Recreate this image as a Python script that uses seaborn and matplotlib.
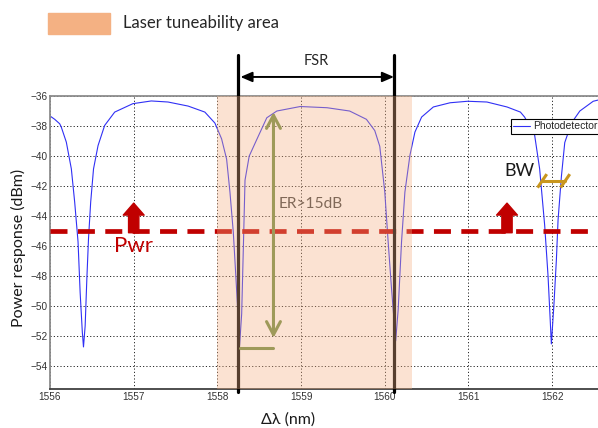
import numpy as np
import pandas as pd
import seaborn as sns
import matplotlib.pyplot as plt
from matplotlib.patches import FancyArrowPatch, Rectangle
from matplotlib.lines import Line2D
import matplotlib.transforms as mtransforms

# ---- data ----
wavelength_nm = [
    1556.00, 1556.056, 1556.116, 1556.135, 1556.195, 1556.255, 1556.295, 1556.335,
    1556.36, 1556.386, 1556.40, 1556.42, 1556.44, 1556.46, 1556.486, 1556.52,
    1556.574, 1556.653, 1556.773, 1556.99, 1557.21, 1557.41, 1557.65, 1557.85,
    1557.97, 1558.05, 1558.11, 1558.15, 1558.19, 1558.22, 1558.24, 1558.265,
    1558.29, 1558.31, 1558.33, 1558.38, 1558.47, 1558.59, 1558.71, 1558.99,
    1559.31, 1559.58, 1559.78, 1559.88, 1559.94, 1560.00, 1560.04, 1560.08,
    1560.13, 1560.16, 1560.20, 1560.24, 1560.30, 1560.36, 1560.44, 1560.58,
    1560.78, 1560.99, 1561.22, 1561.46, 1561.62, 1561.67, 1561.79, 1561.85,
    1561.91, 1561.95, 1561.97, 1561.99, 1562.02, 1562.05, 1562.07, 1562.11,
    1562.15, 1562.23, 1562.33, 1562.49, 1562.60,
]
power_dbm = [
    -37.33, -37.55, -37.85, -38.07, -39.07, -40.85, -43.07, -45.7,
    -49.07, -51.7, -52.7, -51.3, -48.2, -45.5, -43.07, -40.85,
    -39.3, -37.96, -37.07, -36.51, -36.33, -36.4, -36.67, -37.07,
    -37.8, -38.85, -40.2, -42.4, -45.07, -47.96, -49.96, -52.6,
    -50.5, -46.1, -41.6, -40.0, -38.9, -37.45, -37.0, -36.7,
    -36.78, -37.0, -37.55, -38.3, -39.35, -42.4, -45.7, -48.8,
    -52.3, -50.2, -45.7, -42.4, -39.95, -38.4, -37.4, -36.73,
    -36.45, -36.35, -36.4, -36.73, -37.07, -37.4, -38.6, -40.85,
    -44.6, -47.95, -50.2, -52.5, -49.95, -46.9, -44.25, -41.35,
    -39.1, -37.8, -37.0, -36.35, -36.2,
]
x_ticks = [1556, 1557, 1558, 1559, 1560, 1561, 1562]
y_ticks = [-36, -38, -40, -42, -44, -46, -48, -50, -52, -54]

tune_area = (1558.0, 1560.32)
resonances = [1558.25, 1560.11]
pwr_level = -45.0
pwr_arrows_x = [1557.0, 1561.46]
er_x, er_top, er_bottom = 1558.67, -37.07, -52.1
er_floor = -52.75
bw_left, bw_right, bw_level = 1561.875, 1562.15, -41.65

df = pd.DataFrame({"wl": wavelength_nm, "p": power_dbm})

W, H = 598, 428
sns.set_style("white")
plt.rcParams["font.family"] = ["Liberation Sans", "DejaVu Sans"]
ann_font = ["Lato", "DejaVu Sans"]

fig = plt.figure(figsize=(W / 100, H / 100), dpi=100)
ax_l, ax_b, ax_t = 50, 389, 96
ax_w = 7 * 83.7
ax = fig.add_axes([ax_l / W, 1 - ax_b / H, ax_w / W, (ax_b - ax_t) / H])

sns.lineplot(data=df, x="wl", y="p", ax=ax, color="#3030f5", lw=0.8,
             sort=False, estimator=None, label="Photodetector", zorder=2)

ax.set_xlim(1556, 1563)
ax.set_ylim(-55.5, -36)
ax.set_xticks(x_ticks)
ax.set_yticks(y_ticks)
ax.set_xlabel("")
ax.set_ylabel("")
ax.grid(True, color="black", linestyle=(0, (1.2, 2.2)), linewidth=0.7, alpha=0.85)
ax.tick_params(direction="in", length=4, labelsize=7.2, labelcolor="#333333",
               color="#555555", pad=2)
for s in ["left", "top"]:
    ax.spines[s].set_color("#8c8c8c")
    ax.spines[s].set_linewidth(1.3)
ax.spines["bottom"].set_color("#404040")
ax.spines["bottom"].set_linewidth(1.3)
ax.spines["right"].set_visible(False)

# Pwr dashed level
ax.axhline(pwr_level, color="#c00000", lw=3.4, dashes=(3.6, 2.2), zorder=3)
for xa in pwr_arrows_x:
    ax.add_patch(FancyArrowPatch((xa, pwr_level - 0.1), (xa, -43.13),
                 arrowstyle="Simple,head_length=8.6,head_width=15,tail_width=7.4",
                 mutation_scale=1, color="#c00000", shrinkA=0, shrinkB=0, zorder=3))
ax.text(1557.0, -46.0, "Pwr", color="#c00000", fontsize=16, family=ann_font,
        ha="center", va="center", zorder=3)

# resonance markers (through the top of the axes)
trans = mtransforms.blended_transform_factory(ax.transData, ax.transAxes)
for xr in resonances:
    ax.add_line(Line2D([xr, xr], [-0.01, 1.139], transform=trans, color="black",
                       lw=2.3, clip_on=False, zorder=4))
ax.add_patch(FancyArrowPatch((resonances[0], 1.065), (resonances[1], 1.065),
             transform=trans, arrowstyle="<|-|>,head_length=0.7,head_width=0.3",
             mutation_scale=10, color="black", lw=1.4, shrinkA=1.5, shrinkB=0,
             clip_on=False, zorder=4))
ax.text(np.mean(resonances), 1.118, "FSR", transform=trans, fontsize=10.5,
        family=ann_font, color="#262626", ha="center", va="center")

# ER label below the overlay
ax.text(1559.12, -43.2, "ER>15dB", fontsize=11.2, family=ann_font,
        color="#404040", ha="center", va="center", zorder=4)

# laser tuneability overlay
ax.axvspan(*tune_area, color="#f4b183", alpha=0.36, lw=0, zorder=5)

# ER arrow
ax.add_patch(FancyArrowPatch((er_x, er_top), (er_x, er_bottom),
             arrowstyle="<->,head_length=0.47,head_width=0.25", mutation_scale=20,
             color="#9e9a5a", lw=2.2, shrinkA=0, shrinkB=0, zorder=6))
ax.plot([resonances[0] + 0.02, er_x], [er_floor, er_floor], color="#9e9a5a",
        lw=2.2, zorder=6)

# BW marker
bw_col = "#c8961e"
ax.plot([bw_left, bw_right], [bw_level, bw_level], color=bw_col, lw=2.2, zorder=6)
for xb in [bw_left, bw_right]:
    ax.plot([xb - 0.05, xb + 0.06], [bw_level - 0.45, bw_level + 0.45],
            color=bw_col, lw=2.2, zorder=6, solid_capstyle="butt")
ax.text(1561.61, -41.0, "BW", fontsize=13, family=ann_font, color="#1a1a1a",
        ha="center", va="center", zorder=6)

leg = ax.legend(loc="upper left", bbox_to_anchor=((510.7 - ax_l) / ax_w, 0.923),
                borderaxespad=0, fontsize=7.5, handlelength=1.6, handletextpad=0.3,
                borderpad=0.25, fancybox=False, framealpha=1, edgecolor="black")
leg.get_frame().set_linewidth(0.8)
leg.set_zorder(7)

# top legend of the shaded area
fig.patches.append(Rectangle((48 / W, 1 - 34 / H), 62 / W, 21 / H,
                             transform=fig.transFigure, color="#f4b183"))
fig.text(123 / W, 1 - 23 / H, "Laser tuneability area", fontsize=12,
         family=ann_font, color="#262626", ha="left", va="center")

fig.text(18 / W, 1 - 248 / H, "Power response (dBm)", rotation=90, fontsize=11.5,
         family=ann_font, color="#1a1a1a", ha="center", va="center")
fig.text(288 / W, 1 - 420 / H, "Δλ (nm)", fontsize=11.5, family=ann_font,
         color="#1a1a1a", ha="center", va="center")

fig.savefig("out.png", dpi=100)
